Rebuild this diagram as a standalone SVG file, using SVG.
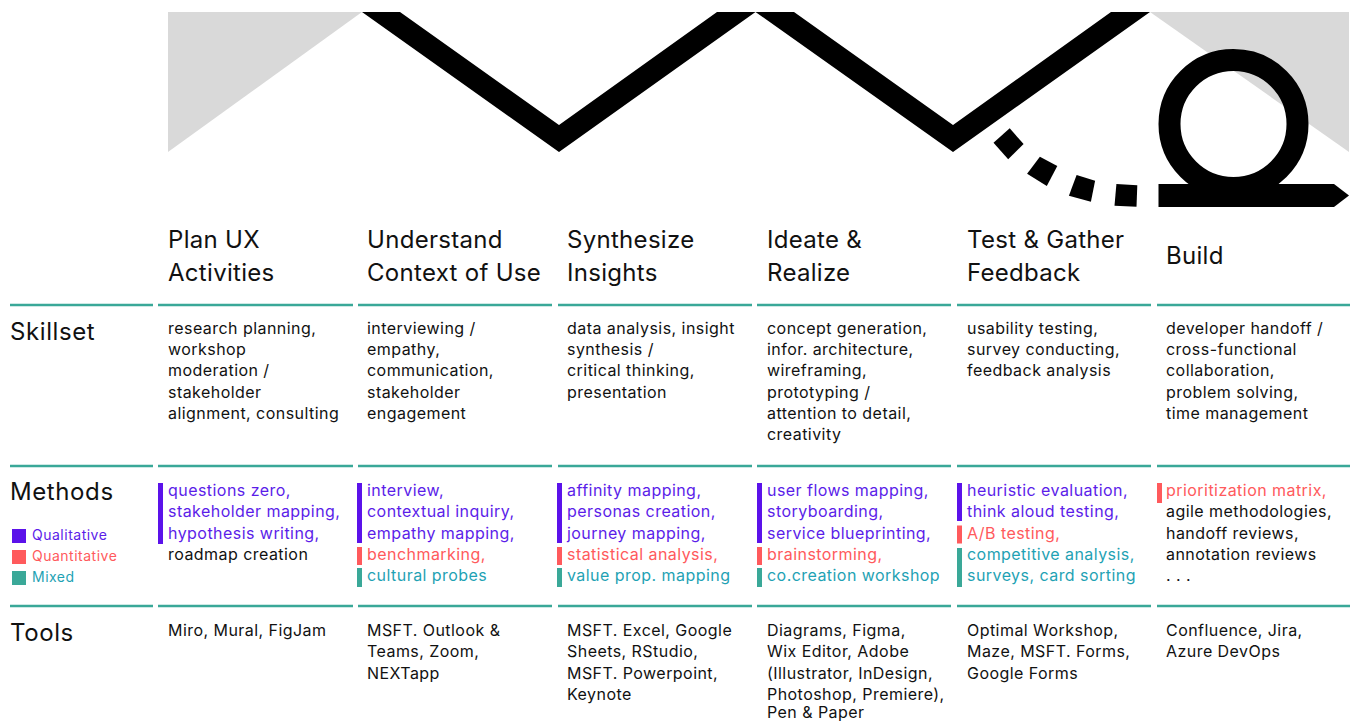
<svg xmlns="http://www.w3.org/2000/svg" width="1356" height="722" viewBox="0 0 1356 722">
<style>
text{font-family:Inter,"Noto Sans",sans-serif;fill:#111}
.h{font-size:24px;letter-spacing:0.3px}
.rl{font-size:24px;letter-spacing:0.6px}
.b{font-size:16px;letter-spacing:0.45px}
.lg{font-size:14px;letter-spacing:0.5px}
.q{fill:#5b1de9}
.n{fill:#ff5a5c}
.m{fill:#1fa2b4}
.bq{fill:#5b12ea}
.bn{fill:#ff5a5c}
.bm{fill:#3aa898}
.div{stroke:#3aa898;stroke-width:2.5}
</style>
<rect width="1356" height="722" fill="#fff"/>
<g id="graphic">
<polygon points="168,12 362,12 168,152" fill="#d9d9d9"/>
<polygon points="1150,12 1349,12 1349,152" fill="#d9d9d9"/>
<polygon points="362,12 400,12 559,125 717,12 794,12 953,125 1111,12 1150,12 953,152 755.5,12 559,152" fill="#000"/>
<circle cx="1233.5" cy="124" r="64" fill="none" stroke="#000" stroke-width="22"/>
<polygon points="1158.5,184 1334,184 1349,195.5 1334,207 1158.5,207" fill="#000"/>
<polygon points="993.5,142.7 1009.7,128.3 1023.6,144 1008.2,159.3" fill="#000"/>
<polygon points="1027.1,173.7 1039.9,156.7 1057.3,166 1046.8,186" fill="#000"/>
<polygon points="1068.9,195.7 1076.6,175 1095.1,180.7 1090.9,201.7" fill="#000"/>
<polygon points="1114.5,205.7 1116.4,184 1137.3,185.3 1136.5,206.7" fill="#000"/>
</g>
<g id="dividers">
<line class="div" x1="10" y1="305" x2="153" y2="305"/><line class="div" x1="158" y1="305" x2="353" y2="305"/><line class="div" x1="358" y1="305" x2="552" y2="305"/><line class="div" x1="558" y1="305" x2="752" y2="305"/><line class="div" x1="757" y1="305" x2="951" y2="305"/><line class="div" x1="957" y1="305" x2="1151" y2="305"/><line class="div" x1="1157" y1="305" x2="1350" y2="305"/>
<line class="div" x1="10" y1="466" x2="153" y2="466"/><line class="div" x1="158" y1="466" x2="353" y2="466"/><line class="div" x1="358" y1="466" x2="552" y2="466"/><line class="div" x1="558" y1="466" x2="752" y2="466"/><line class="div" x1="757" y1="466" x2="951" y2="466"/><line class="div" x1="957" y1="466" x2="1151" y2="466"/><line class="div" x1="1157" y1="466" x2="1350" y2="466"/>
<line class="div" x1="10" y1="606" x2="153" y2="606"/><line class="div" x1="158" y1="606" x2="353" y2="606"/><line class="div" x1="358" y1="606" x2="552" y2="606"/><line class="div" x1="558" y1="606" x2="752" y2="606"/><line class="div" x1="757" y1="606" x2="951" y2="606"/><line class="div" x1="957" y1="606" x2="1151" y2="606"/><line class="div" x1="1157" y1="606" x2="1350" y2="606"/>
</g>
<g id="row-labels">
<text class="rl" x="10" y="340">Skillset</text>
<text class="rl" x="10" y="500">Methods</text>
<text class="rl" x="10" y="641">Tools</text>
<rect class="bq" x="12" y="529" width="14" height="14"/>
<rect class="bn" x="12" y="550" width="14" height="14"/>
<rect class="bm" x="12" y="571" width="14" height="14"/>
<text class="lg q" x="32" y="540">Qualitative</text>
<text class="lg n" x="32" y="561">Quantitative</text>
<text class="lg m" x="32" y="582">Mixed</text>
</g>
<g id="col-plan">
<text class="h" x="168"><tspan x="168" y="248">Plan UX</tspan><tspan x="168" y="281">Activities</tspan></text>
<text class="b" x="168"><tspan x="168" y="334">research planning,</tspan><tspan x="168" y="355">workshop</tspan><tspan x="168" y="376">moderation /</tspan><tspan x="168" y="397.5">stakeholder</tspan><tspan x="168" y="418.5">alignment, consulting</tspan></text>
<rect class="bq" x="158" y="483" width="5" height="61"/>
<text class="b" x="168"><tspan class="q" x="168" y="496">questions zero,</tspan><tspan class="q" x="168" y="517">stakeholder mapping,</tspan><tspan class="q" x="168" y="538.5">hypothesis writing,</tspan><tspan x="168" y="560">roadmap creation</tspan></text>
<text class="b" x="168" y="636">Miro, Mural, FigJam</text>
</g>
<g id="col-understand">
<text class="h" x="367"><tspan x="367" y="248">Understand</tspan><tspan x="367" y="281">Context of Use</tspan></text>
<text class="b" x="367"><tspan x="367" y="334">interviewing /</tspan><tspan x="367" y="355">empathy,</tspan><tspan x="367" y="376">communication,</tspan><tspan x="367" y="397.5">stakeholder</tspan><tspan x="367" y="418.5">engagement</tspan></text>
<rect class="bq" x="357" y="483" width="5" height="60"/>
<rect class="bn" x="357" y="547" width="5" height="18"/>
<rect class="bm" x="357" y="568" width="5" height="19"/>
<text class="b" x="367"><tspan class="q" x="367" y="496">interview,</tspan><tspan class="q" x="367" y="517">contextual inquiry,</tspan><tspan class="q" x="367" y="538.5">empathy mapping,</tspan><tspan class="n" x="367" y="560">benchmarking,</tspan><tspan class="m" x="367" y="581">cultural probes</tspan></text>
<text class="b" x="367"><tspan x="367" y="636">MSFT. Outlook &amp;</tspan><tspan x="367" y="657">Teams, Zoom,</tspan><tspan x="367" y="678.5">NEXTapp</tspan></text>
</g>
<g id="col-synthesize">
<text class="h" x="567"><tspan x="567" y="248">Synthesize</tspan><tspan x="567" y="281">Insights</tspan></text>
<text class="b" x="567"><tspan x="567" y="334">data analysis, insight</tspan><tspan x="567" y="355">synthesis /</tspan><tspan x="567" y="376">critical thinking,</tspan><tspan x="567" y="397.5">presentation</tspan></text>
<rect class="bq" x="557" y="483" width="5" height="60"/>
<rect class="bn" x="557" y="547" width="5" height="18"/>
<rect class="bm" x="557" y="568" width="5" height="19"/>
<text class="b" x="567"><tspan class="q" x="567" y="496">affinity mapping,</tspan><tspan class="q" x="567" y="517">personas creation,</tspan><tspan class="q" x="567" y="538.5">journey mapping,</tspan><tspan class="n" x="567" y="560">statistical analysis,</tspan><tspan class="m" x="567" y="581">value prop. mapping</tspan></text>
<text class="b" x="567"><tspan x="567" y="636">MSFT. Excel, Google</tspan><tspan x="567" y="657">Sheets, RStudio,</tspan><tspan x="567" y="678.5">MSFT. Powerpoint,</tspan><tspan x="567" y="700">Keynote</tspan></text>
</g>
<g id="col-ideate">
<text class="h" x="767"><tspan x="767" y="248">Ideate &amp;</tspan><tspan x="767" y="281">Realize</tspan></text>
<text class="b" x="767"><tspan x="767" y="334">concept generation,</tspan><tspan x="767" y="355">infor. architecture,</tspan><tspan x="767" y="376">wireframing,</tspan><tspan x="767" y="397.5">prototyping /</tspan><tspan x="767" y="418.5">attention to detail,</tspan><tspan x="767" y="440">creativity</tspan></text>
<rect class="bq" x="757" y="483" width="5" height="60"/>
<rect class="bn" x="757" y="547" width="5" height="18"/>
<rect class="bm" x="757" y="568" width="5" height="19"/>
<text class="b" x="767"><tspan class="q" x="767" y="496">user flows mapping,</tspan><tspan class="q" x="767" y="517">storyboarding,</tspan><tspan class="q" x="767" y="538.5">service blueprinting,</tspan><tspan class="n" x="767" y="560">brainstorming,</tspan><tspan class="m" x="767" y="581">co.creation workshop</tspan></text>
<text class="b" x="767"><tspan x="767" y="636">Diagrams, Figma,</tspan><tspan x="767" y="657">Wix Editor, Adobe</tspan><tspan x="767" y="678.5">(Illustrator, InDesign,</tspan><tspan x="767" y="700">Photoshop, Premiere),</tspan><tspan x="767" y="718">Pen &amp; Paper</tspan></text>
</g>
<g id="col-test">
<text class="h" x="967"><tspan x="967" y="248">Test &amp; Gather</tspan><tspan x="967" y="281">Feedback</tspan></text>
<text class="b" x="967"><tspan x="967" y="334">usability testing,</tspan><tspan x="967" y="355">survey conducting,</tspan><tspan x="967" y="376">feedback analysis</tspan></text>
<rect class="bq" x="957" y="483" width="5" height="38"/>
<rect class="bn" x="957" y="525.5" width="5" height="18"/>
<rect class="bm" x="957" y="548" width="5" height="39"/>
<text class="b" x="967"><tspan class="q" x="967" y="496">heuristic evaluation,</tspan><tspan class="q" x="967" y="517">think aloud testing,</tspan><tspan class="n" x="967" y="538.5">A/B testing,</tspan><tspan class="m" x="967" y="560">competitive analysis,</tspan><tspan class="m" x="967" y="581">surveys, card sorting</tspan></text>
<text class="b" x="967"><tspan x="967" y="636">Optimal Workshop,</tspan><tspan x="967" y="657">Maze, MSFT. Forms,</tspan><tspan x="967" y="678.5">Google Forms</tspan></text>
</g>
<g id="col-build">
<text class="h" x="1166" y="264">Build</text>
<text class="b" x="1166"><tspan x="1166" y="334">developer handoff /</tspan><tspan x="1166" y="355">cross-functional</tspan><tspan x="1166" y="376">collaboration,</tspan><tspan x="1166" y="397.5">problem solving,</tspan><tspan x="1166" y="418.5">time management</tspan></text>
<rect class="bn" x="1157" y="483" width="5" height="20"/>
<text class="b" x="1166"><tspan class="n" x="1166" y="496">prioritization matrix,</tspan><tspan x="1166" y="517">agile methodologies,</tspan><tspan x="1166" y="538.5">handoff reviews,</tspan><tspan x="1166" y="560">annotation reviews</tspan><tspan x="1166" y="581">. . .</tspan></text>
<text class="b" x="1166"><tspan x="1166" y="636">Confluence, Jira,</tspan><tspan x="1166" y="657">Azure DevOps</tspan></text>
</g>
</svg>
